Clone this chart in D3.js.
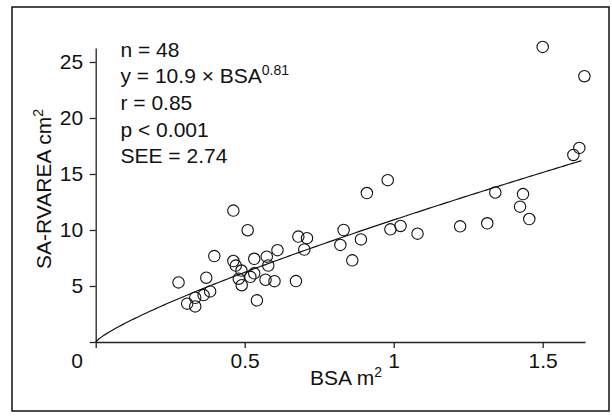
<!DOCTYPE html>
<html><head><meta charset="utf-8">
<script src="https://cdn.jsdelivr.net/npm/d3@7"></script>
<style>
body{margin:0;background:#fff}
text{font-family:"Liberation Sans",Arial,Helvetica,sans-serif;fill:#111}
</style>
</head><body>
<svg id="c" width="612" height="418"></svg>
<script>
// Data
const bsa  = [0.278,0.307,0.334,0.334,0.371,0.362,0.384,0.398,0.462,0.462,0.470,0.489,0.480,0.490,0.510,0.519,0.532,0.532,0.541,0.574,0.579,0.570,0.600,0.610,0.672,0.680,0.709,0.700,0.821,0.832,0.861,0.890,0.910,0.980,0.989,1.023,1.080,1.223,1.314,1.341,1.424,1.434,1.455,1.500,1.603,1.623,1.640];
const area = [5.32,3.42,3.95,3.18,5.74,4.19,4.52,7.67,11.73,7.23,6.82,6.38,5.65,5.07,9.98,5.82,7.43,6.13,3.72,7.62,6.83,5.56,5.43,8.20,5.44,9.41,9.27,8.26,8.67,10.00,7.29,9.16,13.30,14.45,10.06,10.36,9.67,10.33,10.60,13.35,12.08,13.21,10.98,26.35,16.70,17.33,23.73];
const xTicks = [0, 0.5, 1, 1.5];
const yTicks = [0, 5, 10, 15, 20, 25];
const statLines = ["n = 48", "y = 10.9 \u00d7 BSA", "r = 0.85", "p < 0.001", "SEE = 2.74"];
const fitCoef = 10.9, fitExp = 0.81, fitMaxX = 1.63;

const svg = d3.select("#c");
svg.append("rect").attr("x",12).attr("y",7).attr("width",597).attr("height",404)
  .attr("fill","none").attr("stroke","#111").attr("stroke-width",1.5);

const x = d3.scaleLinear().domain([0,1.642]).range([95.7,585]);
const y = d3.scaleLinear().domain([0,26.25]).range([342,48]);

const fs = 21, sfs = 14;
// x axis
const gx = svg.append("g").attr("transform","translate(0,342)")
  .call(d3.axisBottom(x).tickValues(xTicks).tickSize(6).tickSizeOuter(0)
    .tickFormat(d=>d===0?"0":d3.format("~g")(d)));
gx.selectAll("text").attr("font-size",fs).attr("dy","0.71em").attr("y",11)
  .attr("dx", d=>d===0?-19:0);
// y axis
const gy = svg.append("g").attr("transform","translate(95.7,0)")
  .call(d3.axisLeft(y).tickValues(yTicks).tickSize(6).tickSizeOuter(0)
    .tickFormat(d=>d===0?"":d));
gy.selectAll("text").attr("font-size",fs).attr("x",-12.5);
svg.selectAll(".domain, .tick line").attr("stroke","#222").attr("stroke-width",1.3);
svg.selectAll(".tick text").attr("fill","#111").attr("font-family",'"Liberation Sans",Arial,sans-serif');

// fit curve from stated equation
const fitX = d3.range(0, fitMaxX+1e-9, 0.01);
svg.append("path").datum(fitX)
  .attr("d", d3.line().x(d=>x(d)).y(d=>y(fitCoef*Math.pow(d,fitExp))))
  .attr("fill","none").attr("stroke","#111").attr("stroke-width",1.2);

// points
svg.append("g").selectAll("circle").data(bsa).join("circle")
  .attr("cx",(d)=>x(d)).attr("cy",(d,i)=>y(area[i])).attr("r",5.7)
  .attr("fill","none").attr("stroke","#111").attr("stroke-width",1.1);

// stats text
const tg = svg.append("g");
statLines.forEach((s,i)=>{
  const t = tg.append("text").attr("x",120.5).attr("y",56.5+26.7*i).attr("font-size",fs);
  t.append("tspan").text(s);
  if(i===1){ t.append("tspan").attr("font-size",sfs).attr("dy",-8).text("0.81"); }
});

// axis titles
const xt = svg.append("text").attr("x",346).attr("y",385).attr("text-anchor","middle").attr("font-size",fs);
xt.append("tspan").text("BSA m");
xt.append("tspan").attr("font-size",sfs).attr("dy",-8).text("2");
const yt = svg.append("text").attr("transform","translate(51,189) rotate(-90)").attr("text-anchor","middle").attr("font-size",fs);
yt.append("tspan").text("SA-RVAREA cm");
yt.append("tspan").attr("font-size",sfs).attr("dy",-8).text("2");
</script>
</body></html>
